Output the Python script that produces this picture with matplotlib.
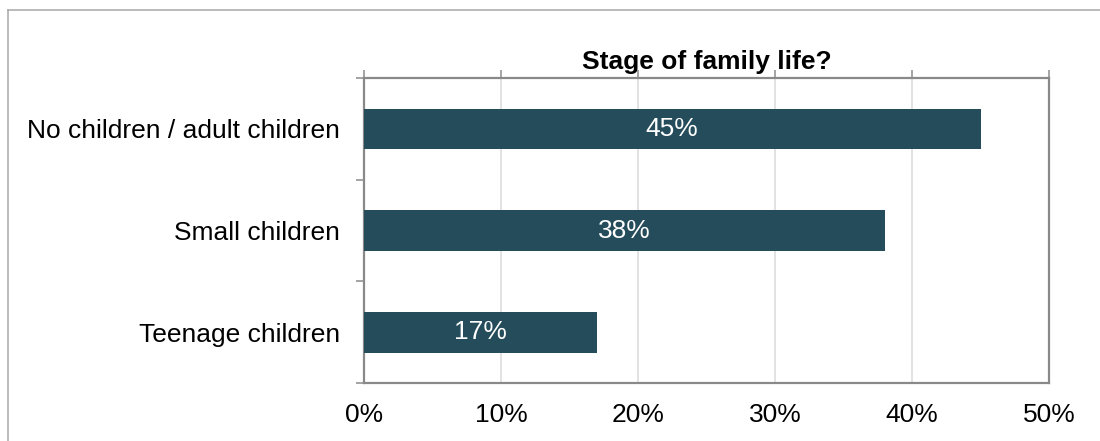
import matplotlib.pyplot as plt
from matplotlib.lines import Line2D
from matplotlib.ticker import FixedLocator, PercentFormatter

plt.rcParams['font.family'] = ['Liberation Sans', 'DejaVu Sans']

categories = ['No children / adult children', 'Small children', 'Teenage children']
shares = [45, 38, 17]
x_ticks = [0, 10, 20, 30, 40, 50]

BAR_COLOR = '#244C5A'
AXIS_COLOR = '#898989'
GRID_COLOR = '#D9D9D9'
DPI = 100


def px(n):
    """Pixels to points at the output resolution."""
    return n * 72 / DPI


fig = plt.figure(figsize=(11, 4.41), dpi=DPI)
ax = fig.add_axes([364 / 1100, 1 - 383 / 441, (1049 - 364) / 1100, (383 - 78) / 441])

ypos = list(range(len(categories)))
bars = ax.barh(ypos, shares, height=0.4, color=BAR_COLOR, zorder=3)
for rect, val in zip(bars, shares):
    ax.text(rect.get_width() / 2, rect.get_y() + rect.get_height() / 2, f'{val}%',
            ha='center', va='center', color='white', fontsize=19, zorder=4)

ax.set_xlim(0, 50)
ax.set_ylim(len(categories) - 0.5, -0.5)
ax.set_xticks(x_ticks)
ax.xaxis.set_major_formatter(PercentFormatter(decimals=0))
ax.set_yticks(ypos)
ax.set_yticklabels(categories)
ax.yaxis.set_minor_locator(FixedLocator([-0.5, 0.5, 1.5, 2.5]))

ax.grid(axis='x', color=GRID_COLOR, linewidth=px(1.5), zorder=0)
ax.tick_params(axis='x', bottom=False, top=True, labelbottom=True, labeltop=False,
               direction='out', length=px(8), width=px(1.5), color=AXIS_COLOR,
               labelsize=19, pad=px(12), labelcolor='black')
ax.tick_params(axis='y', which='major', length=0, labelsize=19, pad=px(24))
ax.tick_params(axis='y', which='minor', direction='out', length=px(8),
               width=px(1.5), color=AXIS_COLOR)

for side in ['left', 'right', 'top', 'bottom']:
    ax.spines[side].set_color(AXIS_COLOR)
    ax.spines[side].set_linewidth(px(2.2))

ax.set_title('Stage of family life?', fontsize=19, fontweight='bold', pad=px(9))

# outer chart frame
fig.add_artist(Line2D([8 / 1100, 1], [1 - 10 / 441] * 2, transform=fig.transFigure,
                      color='#A6A6A6', linewidth=px(1.5)))
fig.add_artist(Line2D([8 / 1100] * 2, [0, 1 - 10 / 441], transform=fig.transFigure,
                      color='#A6A6A6', linewidth=px(1.5)))

fig.savefig('out.png', dpi=DPI)
